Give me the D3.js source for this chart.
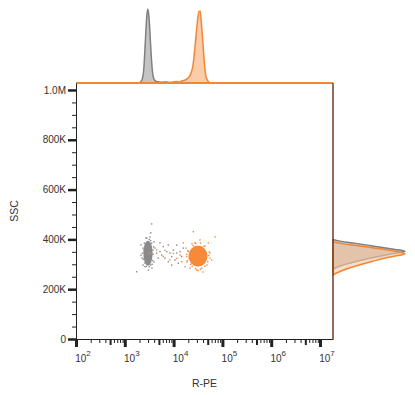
<!DOCTYPE html>
<html lang="en">
<head>
<meta charset="UTF-8">
<title>R-PE vs SSC</title>
<script src="https://d3js.org/d3.v7.min.js"></script>
<style>
    body { margin: 0; background: #fff; }
    text { font-family: Arial, "Liberation Sans", sans-serif; fill: #333; }
    .axis path, .axis line { stroke: #222; }
</style>
</head>
<body>
<div id="chart"></div>
<script>
// ---- data (x values are log10 R-PE, y values are SSC in thousands) ----
const xMajorTicks = [1e2, 1e3, 1e4, 1e5, 1e6, 1e7];
const xMinorMult = [2, 3, 4, 6, 7, 8, 9];
const yMajorTicks = [0, 200, 400, 600, 800, 1000];
const yMinorTicks = [50, 100, 150, 250, 300, 350, 450, 500, 550, 650, 700, 750, 850, 900, 950];

// top histogram: [log10 R-PE, relative count]
const greyHistX = [[3.30,0],[3.35,0.04],[3.39,0.2],[3.42,0.55],[3.45,0.9],[3.475,1.0],[3.50,0.85],[3.53,0.5],[3.56,0.2],[3.60,0.05],[3.65,0.02],[3.75,0.01],[3.85,0.015],[3.95,0]];
const orangeHistX = [[3.85,0],[3.95,0.01],[4.05,0.02],[4.12,0.015],[4.18,0.03],[4.24,0.04],[4.30,0.07],[4.35,0.12],[4.40,0.25],[4.44,0.5],[4.48,0.78],[4.52,0.97],[4.545,0.97],[4.57,0.8],[4.60,0.55],[4.63,0.28],[4.66,0.1],[4.70,0.03],[4.75,0]];

// right histogram: [SSC K, relative count]
const greyHistY = [[400,0],[392,0.12],[385,0.3],[377,0.48],[370,0.62],[362,0.8],[356,0.95],[352,1.0],[345,0.88],[335,0.7],[325,0.53],[315,0.38],[305,0.24],[295,0.12],[285,0.03],[278,0]];
const orangeHistY = [[390,0],[384,0.1],[376,0.3],[368,0.5],[360,0.7],[350,0.9],[342,1.0],[336,0.92],[325,0.72],[312,0.55],[300,0.4],[288,0.26],[276,0.14],[265,0.05],[257,0]];

// dense cluster cores: [log10 centre, SSC centre K, log10 spread, SSC spread K]
const greyCore = [3.475, 345, 0.095, 50];
const orangeCore = [4.50, 333, 0.195, 42];

// sparse events
const greyDots = [[3.551,462],[3.531,426],[3.414,290],[3.482,277],[3.244,270],[3.531,297],[3.619,365],[3.654,345],[3.721,351],[3.756,337],[3.686,325],[3.789,371],[3.824,325],[3.859,351],[3.891,310],[3.926,345],[3.961,331],[3.994,357],[4.029,317],[4.064,345],[4.096,304],[4.131,351],[4.166,331],[4.199,365],[3.891,377],[3.721,386],[3.961,297],[4.064,377],
    [3.332,378],[3.352,325],[3.373,297],[3.598,390],[3.598,309],[3.434,406],[3.516,410],[3.393,357],[3.578,357],[3.557,285],[3.332,337],
    [3.36,345],[3.37,365],[3.38,320],[3.58,340],[3.59,370],[3.57,315],[3.45,405],[3.50,400],[3.44,292],[3.50,290],[3.40,385],[3.55,385],[3.41,305],[3.56,300],[3.53,395]];
const orangeDots = [[4.404,431],[4.199,386],[4.166,310],[4.234,290],[4.473,277],[4.576,285],[4.746,345],[4.781,317],[4.711,386],[4.541,398],[4.301,351],[4.268,331],[4.131,337],[4.064,324],[3.994,344],[3.926,317],[3.824,357],[3.789,331],[3.654,357],[3.516,345],
    [4.254,365],[4.275,309],[4.336,285],[4.643,373],[4.684,297],[4.377,382],[4.602,269],[4.746,325],[4.439,386],[4.316,325],[4.85,410],
    [4.27,340],[4.28,315],[4.29,355],[4.72,335],[4.73,350],[4.70,310],[4.45,383],[4.55,385],[4.40,375],[4.62,372],[4.45,282],[4.55,280],[4.38,292],[4.64,292],[4.50,275],[4.35,300]];

const greyStroke = "#808080", greyFill = "#c4c4c4", greyDot = "#8a8a8a";
const orangeStroke = "#f08636", orangeFill = "#f9c39a", orangeDot = "#f7893a";

const svg = d3.select("#chart").append("svg")
    .attr("width", 415)
    .attr("height", 395);

const x = d3.scaleLog().domain([100, 10 ** 7.266]).range([76, 333]);
const y = d3.scaleLinear().domain([0, 1028]).range([339, 83]);
const hTop = d3.scaleLinear().domain([0, 1]).range([83, 9]);
const hRight = d3.scaleLinear().domain([0, 1]).range([333, 405]);

// top histogram
const areaTop = d3.area()
    .x(d => x(10 ** d[0]))
    .y0(hTop(0))
    .y1(d => hTop(d[1]))
    .curve(d3.curveMonotoneX);

svg.append("path").datum(greyHistX).attr("d", areaTop)
    .attr("fill", greyFill).attr("stroke", greyStroke).attr("stroke-width", 1.5);
svg.append("path").datum(orangeHistX).attr("d", areaTop)
    .attr("fill", orangeFill).attr("fill-opacity", 0.85)
    .attr("stroke", orangeStroke).attr("stroke-width", 1.5);

// right histogram
const areaRight = d3.area()
    .y(d => y(d[0]))
    .x0(hRight(0))
    .x1(d => hRight(d[1]))
    .curve(d3.curveMonotoneY);

svg.append("path").datum(greyHistY).attr("d", areaRight)
    .attr("fill", greyFill).attr("stroke", greyStroke).attr("stroke-width", 1.5);
svg.append("path").datum(orangeHistY).attr("d", areaRight)
    .attr("fill", orangeFill).attr("fill-opacity", 0.6)
    .attr("stroke", orangeStroke).attr("stroke-width", 1.5);

// frame lines that double as histogram baselines
svg.append("line")
    .attr("x1", x.range()[0]).attr("x2", x.range()[1])
    .attr("y1", y.range()[1]).attr("y2", y.range()[1])
    .attr("stroke", orangeStroke).attr("stroke-width", 2);
svg.append("line")
    .attr("x1", x.range()[1]).attr("x2", x.range()[1])
    .attr("y1", y.range()[1]).attr("y2", y.range()[0])
    .attr("stroke", "#6e3f1e").attr("stroke-width", 1.5);

// scatter
const plot = svg.append("g");
function core(c, color) {
    const cx = x(10 ** c[0]);
    const rx = x(10 ** (c[0] + c[2])) - cx;
    const cy = y(c[1]);
    const ry = cy - y(c[1] + c[3]);
    plot.append("ellipse")
        .attr("cx", cx).attr("cy", cy)
        .attr("rx", rx).attr("ry", ry)
        .attr("fill", color);
}
function dots(list, color) {
    plot.append("g").selectAll("rect")
        .data(list)
        .enter()
        .append("rect")
        .attr("x", d => x(10 ** d[0]) - 0.7)
        .attr("y", d => y(d[1]) - 0.7)
        .attr("width", 1.4)
        .attr("height", 1.4)
        .attr("fill", color);
}
core(greyCore, greyDot);
dots(greyDots, greyDot);
core(orangeCore, orangeDot);
dots(orangeDots, orangeDot);

// y axis
const yAxis = svg.append("g").attr("class", "axis")
    .attr("transform", "translate(" + x.range()[0] + ",0)")
    .call(d3.axisLeft(y).tickValues(yMajorTicks).tickSize(8).tickSizeOuter(0).tickPadding(2)
        .tickFormat(d => d === 0 ? "0" : d >= 1000 ? (d / 1000).toFixed(1) + "M" : d + "K"));
yAxis.selectAll(".tick line").attr("stroke-width", 2.5);
yAxis.selectAll("text").style("font-size", "10px").attr("fill", "#333");
svg.append("g").attr("class", "axis")
    .attr("transform", "translate(" + x.range()[0] + ",0)")
    .call(d3.axisLeft(y).tickValues(yMinorTicks).tickSize(4).tickSizeOuter(0).tickFormat(""))
    .select(".domain").remove();

// x axis
const xAxis = svg.append("g").attr("class", "axis")
    .attr("transform", "translate(0," + y.range()[0] + ")")
    .call(d3.axisBottom(x).tickValues(xMajorTicks).tickSize(8).tickSizeOuter(0).tickFormat(""));
xAxis.selectAll(".tick line").attr("stroke-width", 3);

const minorX = [], midX = [];
xMajorTicks.slice(0, -1).forEach(dec => {
    xMinorMult.forEach(m => minorX.push(dec * m));
    midX.push(dec * 5);
});
svg.append("g").attr("class", "axis")
    .attr("transform", "translate(0," + y.range()[0] + ")")
    .call(d3.axisBottom(x).tickValues(minorX).tickSize(4).tickFormat(""))
    .select(".domain").remove();
const mid = svg.append("g").attr("class", "axis")
    .attr("transform", "translate(0," + y.range()[0] + ")")
    .call(d3.axisBottom(x).tickValues(midX).tickSize(6).tickFormat(""));
mid.select(".domain").remove();
mid.selectAll(".tick line").attr("stroke-width", 2);

// decade labels 10^n
const lab = svg.append("g").selectAll("text")
    .data(xMajorTicks)
    .enter()
    .append("text")
    .attr("x", d => x(d) + 7)
    .attr("y", 361.5)
    .attr("text-anchor", "middle")
    .style("font-size", "10px");
lab.append("tspan").text("10");
lab.append("tspan").attr("dy", -6).style("font-size", "8px").text(d => Math.round(Math.log10(d)));

// axis titles
svg.append("text")
    .attr("x", (x.range()[0] + x.range()[1]) / 2)
    .attr("y", 387)
    .attr("text-anchor", "middle")
    .style("font-size", "10.5px")
    .text("R-PE");
svg.append("text")
    .attr("transform", "translate(18," + (y.range()[0] + y.range()[1]) / 2 + ") rotate(-90)")
    .attr("text-anchor", "middle")
    .style("font-size", "10.5px")
    .text("SSC");
</script>
</body>
</html>
